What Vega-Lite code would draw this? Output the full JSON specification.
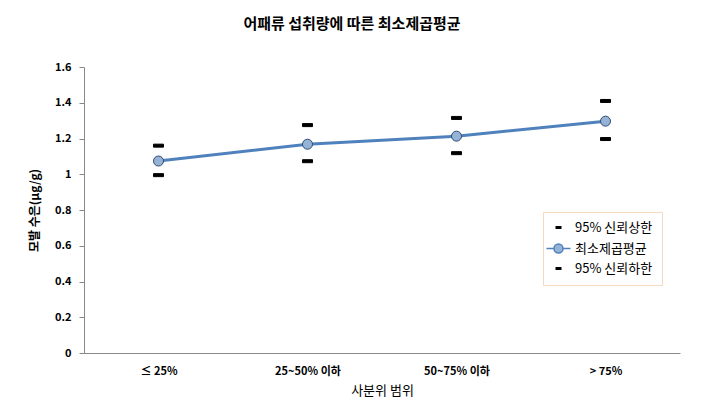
{
  "$schema": "https://vega.github.io/schema/vega-lite/v6.json",
  "width": 596,
  "height": 286,
  "autosize": {"type": "none"},
  "padding": {"left": 84, "top": 67, "right": 24, "bottom": 64},
  "background": "white",
  "title": {
    "text": "어패류 섭취량에 따른 최소제곱평균",
    "font": "Noto Sans CJK KR",
    "fontSize": 15,
    "fontWeight": "bold",
    "color": "#000000",
    "offset": 29,
    "dx": -30
  },
  "data": {
    "values": [
      {"q": "≤ 25%", "series": "95% 신뢰상한", "value": 1.16},
      {"q": "≤ 25%", "series": "최소제곱평균", "value": 1.074},
      {"q": "≤ 25%", "series": "95% 신뢰하한", "value": 0.995},
      {"q": "25~50% 이하", "series": "95% 신뢰상한", "value": 1.275},
      {"q": "25~50% 이하", "series": "최소제곱평균", "value": 1.168},
      {"q": "25~50% 이하", "series": "95% 신뢰하한", "value": 1.073},
      {"q": "50~75% 이하", "series": "95% 신뢰상한", "value": 1.315},
      {"q": "50~75% 이하", "series": "최소제곱평균", "value": 1.213},
      {"q": "50~75% 이하", "series": "95% 신뢰하한", "value": 1.118},
      {"q": "> 75%", "series": "95% 신뢰상한", "value": 1.41},
      {"q": "> 75%", "series": "최소제곱평균", "value": 1.297},
      {"q": "> 75%", "series": "95% 신뢰하한", "value": 1.197}
    ]
  },
  "encoding": {
    "x": {
      "field": "q",
      "type": "nominal",
      "sort": null,
      "scale": {"paddingInner": 0, "paddingOuter": 0},
      "axis": {
        "title": "사분위 범위",
        "labelAngle": 0,
        "labelFont": "Noto Sans CJK KR",
        "labelFontSize": 11,
        "labelFontWeight": "bold",
        "labelColor": "#000000",
        "labelPadding": 12,
        "ticks": false,
        "domainColor": "#888888",
        "titleFont": "Noto Sans CJK KR",
        "titleFontSize": 13,
        "titleFontWeight": "normal",
        "titleColor": "#000000",
        "titlePadding": 8
      }
    },
    "y": {
      "field": "value",
      "type": "quantitative",
      "scale": {"domain": [0, 1.6], "nice": false},
      "axis": {
        "title": "모발 수은(μg/g)",
        "values": [0, 0.2, 0.4, 0.6, 0.8, 1, 1.2, 1.4, 1.6],
        "format": ".1~f",
        "grid": false,
        "labelFont": "Noto Sans CJK KR",
        "labelFontSize": 11,
        "labelFontWeight": "bold",
        "labelColor": "#000000",
        "labelPadding": 8,
        "tickColor": "#888888",
        "tickSize": 5,
        "domainColor": "#888888",
        "titleFont": "Noto Sans CJK KR",
        "titleFontSize": 12,
        "titleFontWeight": "bold",
        "titleColor": "#000000",
        "titlePadding": 13
      }
    }
  },
  "layer": [
    {
      "transform": [{"filter": "datum.series === '최소제곱평균'"}],
      "mark": {"type": "line", "color": "#4F81BD", "strokeWidth": 3},
      "encoding": {}
    },
    {
      "mark": {"type": "point", "filled": true, "size": 100, "strokeWidth": 1, "opacity": 1},
      "encoding": {
        "shape": {
          "field": "series",
          "type": "nominal",
          "scale": {
            "domain": ["95% 신뢰상한", "최소제곱평균", "95% 신뢰하한"],
            "range": ["M-1,-0.3H1V0.3H-1Z", "circle", "M-1,-0.3H1V0.3H-1Z"]
          },
          "legend": null
        },
        "color": {
          "field": "series",
          "type": "nominal",
          "scale": {
            "domain": ["95% 신뢰상한", "최소제곱평균", "95% 신뢰하한"],
            "range": ["#000000", "#95B3D7", "#000000"]
          },
          "legend": null
        },
        "stroke": {
          "field": "series",
          "type": "nominal",
          "scale": {
            "domain": ["95% 신뢰상한", "최소제곱평균", "95% 신뢰하한"],
            "range": ["#000000", "#2F4B70", "#000000"]
          },
          "legend": null
        }
      }
    },
    {
      "transform": [{"filter": "false"}],
      "mark": {"type": "point", "filled": true, "size": 100, "strokeWidth": 2.5, "opacity": 1},
      "encoding": {
        "shape": {
          "field": "series",
          "type": "nominal",
          "scale": {
            "domain": ["95% 신뢰상한", "최소제곱평균", "95% 신뢰하한"],
            "range": ["M-0.6,-0.3H0.6V0.3H-0.6Z", "M-2.4,0H-0.9M0.9,0H2.4M0.9,0A0.9,0.9 0 1,1 -0.9,0A0.9,0.9 0 1,1 0.9,0", "M-0.6,-0.3H0.6V0.3H-0.6Z"]
          },
          "legend": {
            "title": null,
            "orient": "none",
            "legendX": 459,
            "legendY": 145,
            "padding": 9,
            "strokeColor": "#F2D9BF",
            "fillColor": "white",
            "labelFont": "Noto Sans CJK KR",
            "labelFontSize": 13,
            "labelColor": "#000000",
            "labelOffset": 10,
            "rowPadding": 6,
            "symbolSize": 100
          }
        },
        "color": {
          "field": "series",
          "type": "nominal",
          "scale": {
            "domain": ["95% 신뢰상한", "최소제곱평균", "95% 신뢰하한"],
            "range": ["#000000", "#95B3D7", "#000000"]
          },
          "legend": {
            "title": null,
            "orient": "none",
            "legendX": 459,
            "legendY": 145,
            "padding": 9,
            "strokeColor": "#F2D9BF",
            "fillColor": "white",
            "labelFont": "Noto Sans CJK KR",
            "labelFontSize": 13,
            "labelColor": "#000000",
            "labelOffset": 10,
            "rowPadding": 6,
            "symbolSize": 100
          }
        },
        "stroke": {
          "field": "series",
          "type": "nominal",
          "scale": {
            "domain": ["95% 신뢰상한", "최소제곱평균", "95% 신뢰하한"],
            "range": ["transparent", "#4F81BD", "transparent"]
          },
          "legend": {
            "title": null,
            "orient": "none",
            "legendX": 459,
            "legendY": 145,
            "padding": 9,
            "strokeColor": "#F2D9BF",
            "fillColor": "white",
            "labelFont": "Noto Sans CJK KR",
            "labelFontSize": 13,
            "labelColor": "#000000",
            "labelOffset": 10,
            "rowPadding": 6,
            "symbolSize": 100
          }
        }
      }
    }
  ],
  "resolve": {"scale": {"shape": "independent", "color": "independent", "stroke": "independent"}},
  "config": {
    "view": {"stroke": null}
  }
}
